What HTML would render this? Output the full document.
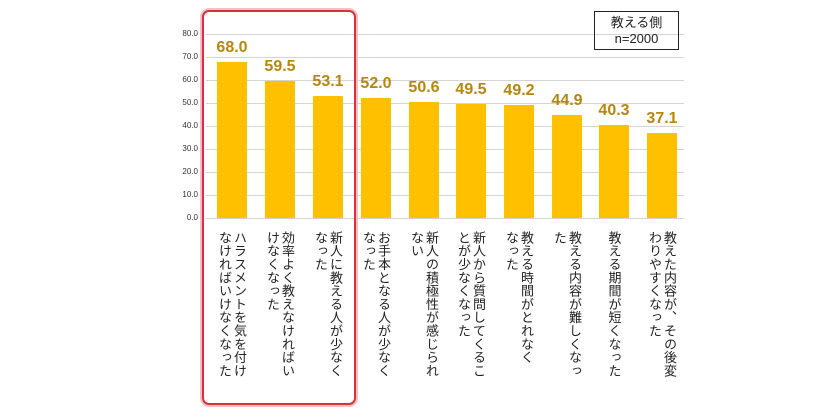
<!DOCTYPE html>
<html><head><meta charset="utf-8"><style>
body{margin:0;background:#fff;}
#c{position:relative;width:840px;height:420px;overflow:hidden;font-family:"Liberation Sans","Noto Sans CJK JP",sans-serif;}
.g{position:absolute;left:206px;width:478px;height:1px;background:#d4d4d4;}
.yl{position:absolute;left:168px;width:30px;text-align:right;font-size:8px;color:#333;}
.b{position:absolute;width:30px;background:#ffc000;}
.v{position:absolute;width:60px;text-align:center;font-size:16px;font-weight:bold;color:#b8860b;}
.t{position:absolute;top:231px;writing-mode:vertical-rl;font-size:13px;letter-spacing:0.3px;line-height:15px;color:#222;transform:translateX(-50%);white-space:nowrap;}
</style></head><body><div id="c">
<div class="g" style="top:218px"></div><div class="g" style="top:195px"></div><div class="g" style="top:172px"></div><div class="g" style="top:149px"></div><div class="g" style="top:126px"></div><div class="g" style="top:103px"></div><div class="g" style="top:80px"></div><div class="g" style="top:57px"></div><div class="g" style="top:34px"></div>
<div class="yl" style="top:213px">0.0</div><div class="yl" style="top:190px">10.0</div><div class="yl" style="top:167px">20.0</div><div class="yl" style="top:144px">30.0</div><div class="yl" style="top:121px">40.0</div><div class="yl" style="top:98px">50.0</div><div class="yl" style="top:75px">60.0</div><div class="yl" style="top:52px">70.0</div><div class="yl" style="top:29px">80.0</div>

<div class="b" style="left:217px;top:62px;height:156px"></div><div class="v" style="left:202px;top:39px">68.0</div>
<div class="b" style="left:265px;top:81px;height:137px"></div><div class="v" style="left:250px;top:58px">59.5</div>
<div class="b" style="left:313px;top:96px;height:122px"></div><div class="v" style="left:298px;top:73px">53.1</div>
<div class="b" style="left:361px;top:98px;height:120px"></div><div class="v" style="left:346px;top:75px">52.0</div>
<div class="b" style="left:409px;top:102px;height:116px"></div><div class="v" style="left:394px;top:79px">50.6</div>
<div class="b" style="left:456px;top:104px;height:114px"></div><div class="v" style="left:441px;top:81px">49.5</div>
<div class="b" style="left:504px;top:105px;height:113px"></div><div class="v" style="left:489px;top:82px">49.2</div>
<div class="b" style="left:552px;top:115px;height:103px"></div><div class="v" style="left:537px;top:92px">44.9</div>
<div class="b" style="left:599px;top:125px;height:93px"></div><div class="v" style="left:584px;top:102px">40.3</div>
<div class="b" style="left:647px;top:133px;height:85px"></div><div class="v" style="left:632px;top:110px">37.1</div>

<div class="t" style="left:232px">ハラスメントを気を付け<br>なければいけなくなった</div>
<div class="t" style="left:280px">効率よく教えなければい<br>けなくなった</div>
<div class="t" style="left:328px">新人に教える人が少なく<br>なった</div>
<div class="t" style="left:376px">お手本となる人が少なく<br>なった</div>
<div class="t" style="left:424px">新人の積極性が感じられ<br>ない</div>
<div class="t" style="left:471px">新人から質問してくるこ<br>とが少なくなった</div>
<div class="t" style="left:519px">教える時間がとれなく<br>なった</div>
<div class="t" style="left:567px">教える内容が難しくなっ<br>た</div>
<div class="t" style="left:614px">教える期間が短くなった</div>
<div class="t" style="left:662px">教えた内容が、その後変<br>わりやすくなった</div>

<div style="position:absolute;left:202px;top:10px;width:150px;height:391px;border:2px solid #d9303a;border-radius:7px;box-shadow:0 0 0 2px #f6c0c4;"></div>
<div style="position:absolute;left:594px;top:11px;text-align:center;font-size:13px;line-height:16px;color:#222;padding-top:3px;box-sizing:border-box;height:39px;width:85px;border:1px solid #222">教える側<br>n=2000</div>
</div></body></html>
